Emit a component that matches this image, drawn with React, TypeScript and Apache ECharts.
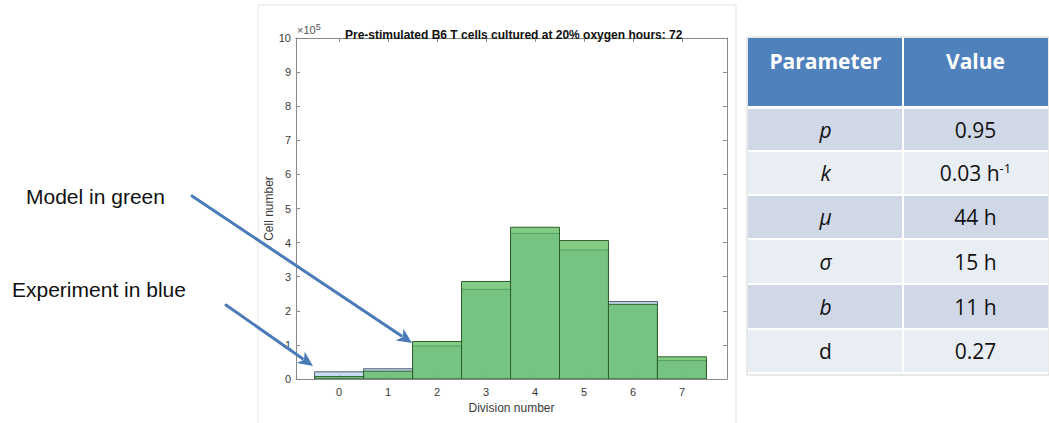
import React, { useEffect, useRef } from "react";
import * as echarts from "echarts";

// ---- data ----
const divisions = [0, 1, 2, 3, 4, 5, 6, 7];
// Cell number, in units of 10^5
const experiment = [0.21, 0.3, 0.97, 2.63, 4.27, 3.78, 2.27, 0.54];
const model = [0.07, 0.23, 1.1, 2.86, 4.45, 4.06, 2.19, 0.65];
const yTicks = [0, 1, 2, 3, 4, 5, 6, 7, 8, 9, 10];

const titleText = "Pre-stimulated B6 T cells cultured at 20% oxygen hours: 72";
const xName = "Division number";
const yName = "Cell number";

const paramNames = ["p", "k", "μ", "σ", "b", "d"];
const paramItalic = [true, true, true, true, true, false];
const paramValues = ["0.95", "0.03 h{sup|-1}", "44 h", "15 h", "11 h", "0.27"];

const annotations = ["Model in green", "Experiment in blue"];

const FONT = "'Liberation Sans', Arial, Helvetica, sans-serif";
const TFONT = "'Open Sans', 'Noto Sans', sans-serif";

function arrow(x1: number, y1: number, x2: number, y2: number, color: string) {
  const dx = x2 - x1, dy = y2 - y1;
  const len = Math.sqrt(dx * dx + dy * dy);
  const ux = dx / len, uy = dy / len;
  const hl = 15, hw = 7;
  const bx = x2 - ux * hl, by = y2 - uy * hl;
  return [
    {
      type: "line",
      shape: { x1, y1, x2: bx + ux * 2, y2: by + uy * 2 },
      style: { stroke: color, lineWidth: 3, lineCap: "round" },
      z: 100,
    },
    {
      type: "polygon",
      shape: {
        points: [
          [x2, y2],
          [bx - uy * hw, by + ux * hw],
          [bx + ux * 4, by + uy * 4],
          [bx + uy * hw, by - ux * hw],
        ],
      },
      style: { fill: color },
      z: 100,
    },
  ];
}

function buildTable() {
  const els: any[] = [];
  const L = 748, R = 1048, M = 903;
  const headTop = 38, headBot = 106;
  const rowTops = [109, 152, 196, 240, 285, 330];
  const rowBot = 374;
  els.push({
    type: "rect",
    shape: { x: L - 1, y: headTop - 1, width: R - L + 2, height: rowBot - headTop + 2 },
    style: { fill: "#ffffff", stroke: "#d4d4d4", lineWidth: 1 },
    z: 1,
  });
  els.push({
    type: "rect",
    shape: { x: L, y: headTop, width: R - L, height: headBot - headTop },
    style: { fill: "#4f81bd" },
    z: 2,
  });
  for (let i = 0; i < paramNames.length; i++) {
    const top = rowTops[i];
    const bot = i + 1 < rowTops.length ? rowTops[i + 1] : rowBot;
    els.push({
      type: "rect",
      shape: { x: L, y: top, width: R - L, height: bot - top - 2 },
      style: { fill: i % 2 === 0 ? "#d0d8e8" : "#e9edf4" },
      z: 2,
    });
    const cy = (top + bot - 2) / 2;
    els.push({
      type: "text",
      x: (L + M) / 2,
      y: cy,
      style: {
        text: paramNames[i],
        font: `${paramItalic[i] ? "italic " : ""}21px ${TFONT}`,
        fill: "#111111",
        align: "center",
        verticalAlign: "middle",
      },
      z: 3,
    });
    els.push({
      type: "text",
      x: (M + R) / 2,
      y: cy,
      style: {
        text: paramValues[i],
        font: `21px ${TFONT}`,
        fill: "#111111",
        align: "center",
        verticalAlign: "middle",
        rich: {
          sup: { fontSize: 13, verticalAlign: "top", padding: [0, 0, 10, 0], fontFamily: TFONT, fill: "#111111" },
        },
      },
      z: 3,
    });
  }
  els.push({
    type: "line",
    shape: { x1: M, y1: headTop, x2: M, y2: rowBot },
    style: { stroke: "#ffffff", lineWidth: 2 },
    z: 4,
  });
  els.push({
    type: "text",
    x: (L + M) / 2,
    y: 61,
    style: {
      text: "Parameter",
      font: `bold 21px ${TFONT}`,
      fill: "#ffffff",
      align: "center",
      verticalAlign: "middle",
    },
    z: 5,
  });
  els.push({
    type: "text",
    x: (M + R) / 2,
    y: 61,
    style: {
      text: "Value",
      font: `bold 21px ${TFONT}`,
      fill: "#ffffff",
      align: "center",
      verticalAlign: "middle",
    },
    z: 5,
  });
  return els;
}

function barRenderer(fill: string, stroke: string) {
  return (params: any, api: any) => {
    const x = api.value(0);
    const v = api.value(1);
    const p0 = api.coord([x - 0.5, v]);
    const p1 = api.coord([x + 0.5, 0]);
    return {
      type: "rect",
      shape: { x: p0[0], y: p0[1], width: p1[0] - p0[0], height: p1[1] - p0[1] },
      style: { fill, stroke, lineWidth: 1 },
    };
  };
}

export default function App() {
  const ref = useRef<HTMLDivElement>(null);
  useEffect(() => {
    if (!ref.current) return;
    const chart = echarts.init(ref.current, undefined, { renderer: "svg" });
    const axisColor = "#8a8a8a";
    const labelColor = "#3a3a3a";
    const xMin = -0.88, xMax = 7.92;
    const option: any = {
      animation: false,
      backgroundColor: "#ffffff",
      title: {
        text: titleText,
        left: 340,
        top: 24,
        textStyle: { fontFamily: FONT, fontSize: 12, fontWeight: "bold", color: "#111111" },
      },
      grid: { left: 296, top: 38, right: 322, bottom: 44, show: false },
      xAxis: [
        {
          type: "value",
          min: xMin,
          max: xMax,
          name: xName,
          nameLocation: "middle",
          nameGap: 20,
          nameTextStyle: { fontFamily: FONT, fontSize: 12, color: labelColor },
          axisLine: { show: true, onZero: false, lineStyle: { color: axisColor, width: 1 } },
          axisTick: { show: true, inside: true, length: 4, customValues: divisions, lineStyle: { color: axisColor } },
          axisLabel: { customValues: divisions, fontFamily: FONT, fontSize: 11, color: labelColor, margin: 7 },
          splitLine: { show: false },
        },
        {
          type: "value",
          position: "top",
          min: xMin,
          max: xMax,
          axisLine: { show: true, onZero: false, lineStyle: { color: axisColor, width: 1 } },
          axisTick: { show: true, inside: true, length: 4, customValues: divisions, lineStyle: { color: axisColor } },
          axisLabel: { show: false },
          splitLine: { show: false },
        },
      ],
      yAxis: [
        {
          type: "value",
          min: 0,
          max: 10,
          interval: 1,
          name: yName,
          nameLocation: "middle",
          nameGap: 19,
          nameTextStyle: { fontFamily: FONT, fontSize: 12, color: labelColor },
          axisLine: { show: true, onZero: false, lineStyle: { color: axisColor, width: 1 } },
          axisTick: { show: true, inside: true, length: 4, lineStyle: { color: axisColor } },
          axisLabel: {
            customValues: yTicks,
            fontFamily: FONT,
            fontSize: 11,
            color: labelColor,
            margin: 5,
          },
          splitLine: { show: false },
        },
        {
          type: "value",
          position: "right",
          min: 0,
          max: 10,
          interval: 1,
          axisLine: { show: true, onZero: false, lineStyle: { color: axisColor, width: 1 } },
          axisTick: { show: true, inside: true, length: 4, lineStyle: { color: axisColor } },
          axisLabel: { show: false },
          splitLine: { show: false },
        },
      ],
      series: [
        {
          name: "Experiment",
          type: "custom",
          renderItem: barRenderer("rgba(165,195,232,0.6)", "#4d5e70"),
          data: divisions.map((d, i) => [d, experiment[i]]),
          encode: { x: 0, y: 1 },
          clip: true,
          z: 2,
        },
        {
          name: "Model",
          type: "custom",
          renderItem: barRenderer("rgba(90,186,90,0.74)", "#2f5f2f"),
          data: divisions.map((d, i) => [d, model[i]]),
          encode: { x: 0, y: 1 },
          clip: true,
          z: 3,
        },
      ],
      graphic: [
        {
          type: "rect",
          shape: { x: 258, y: 5, width: 478, height: 430 },
          style: { fill: "none", stroke: "#e4e4e4", lineWidth: 1 },
          z: -1,
        },
        {
          type: "text",
          x: 297,
          y: 38,
          style: {
            text: "×10{sup|5}",
            font: `11px ${FONT}`,
            fill: "#555555",
            verticalAlign: "bottom",
            rich: { sup: { fontSize: 9, verticalAlign: "top", padding: [0, 0, 7, 0], fill: "#555555", fontFamily: FONT } },
          },
        },
        {
          type: "text",
          x: 26,
          y: 196,
          style: { text: annotations[0], font: `21px ${FONT}`, fill: "#111111", verticalAlign: "middle" },
        },
        {
          type: "text",
          x: 12,
          y: 289,
          style: { text: annotations[1], font: `21px ${FONT}`, fill: "#111111", verticalAlign: "middle" },
        },
        ...arrow(192, 196, 412, 343, "#4a7ab8"),
        ...arrow(226, 305, 313, 366, "#4a7ab8"),
        ...buildTable(),
      ],
    };
    chart.setOption(option);
    return () => chart.dispose();
  }, []);
  return (
    <div
      ref={ref}
      style={{ position: "fixed", left: 0, top: 0, width: 1049, height: 423, background: "#ffffff" }}
    />
  );
}
